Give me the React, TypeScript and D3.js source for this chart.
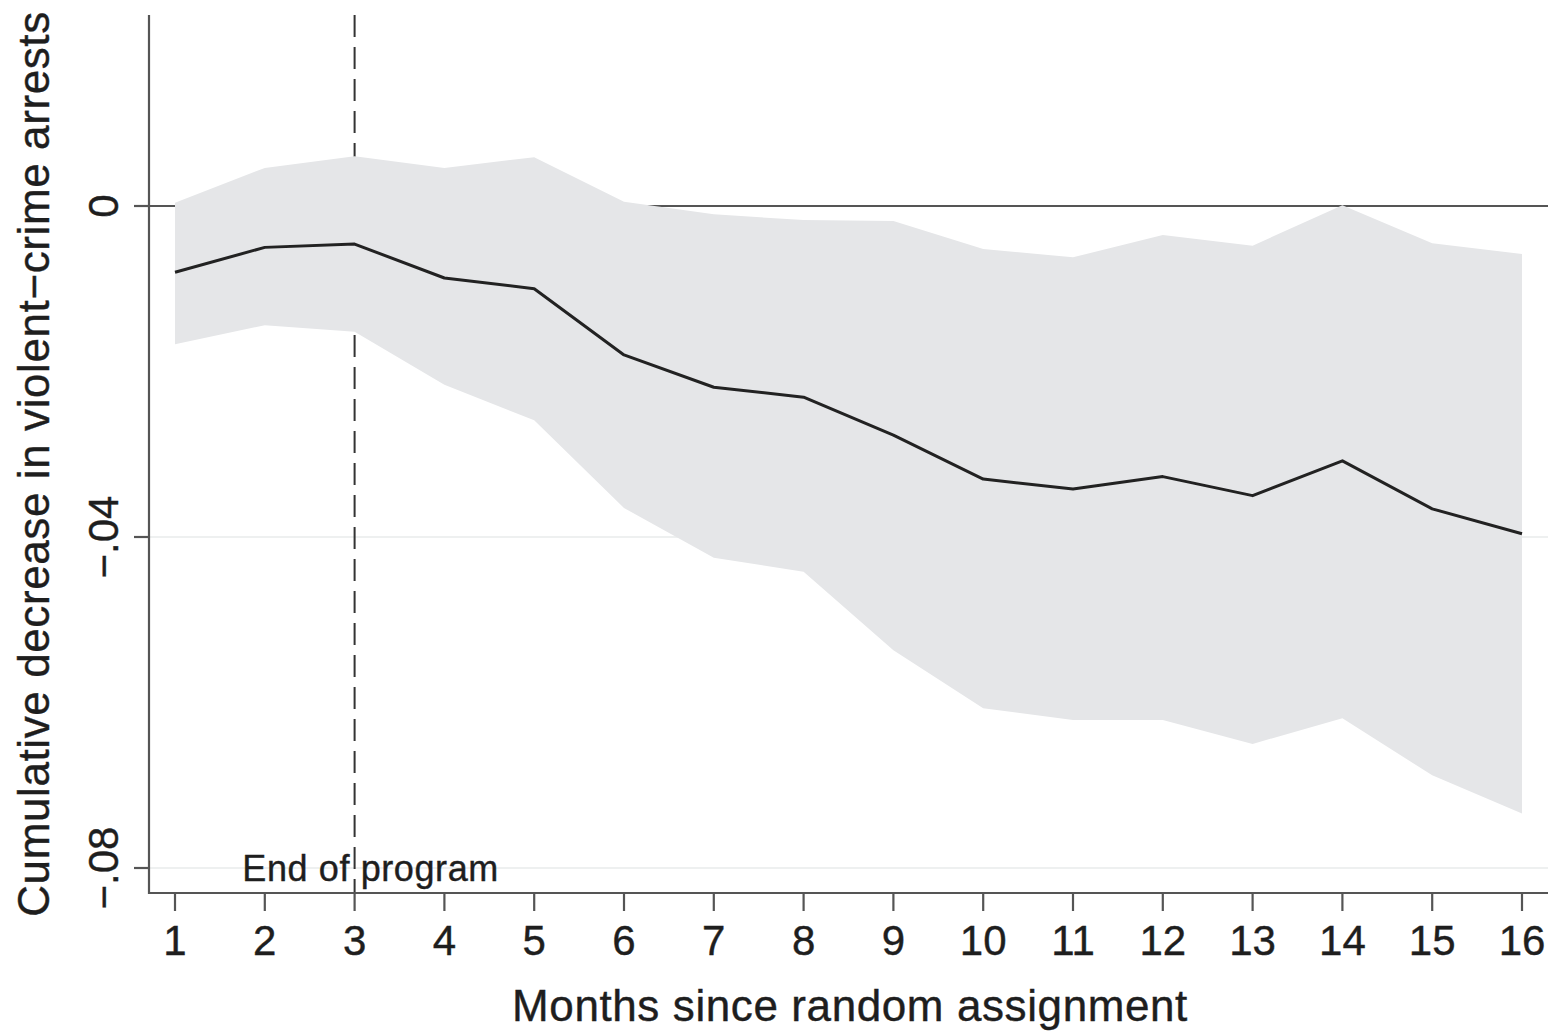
import React from "react";
import * as d3 from "d3";

// months since random assignment
const months = [1, 2, 3, 4, 5, 6, 7, 8, 9, 10, 11, 12, 13, 14, 15, 16];
// point estimate
const estimate = [
  -0.0080, -0.0050, -0.0046, -0.0087, -0.0100, -0.0180, -0.0219, -0.0231,
  -0.0277, -0.0330, -0.0342, -0.0327, -0.0350, -0.0308, -0.0366, -0.0396,
];
// confidence band
const upper = [
  0.0004, 0.0046, 0.0060, 0.0046, 0.0059, 0.0005, -0.0010, -0.0017,
  -0.0018, -0.0052, -0.0062, -0.0035, -0.0048, 0.0001, -0.0045, -0.0058,
];
const lower = [
  -0.0167, -0.0144, -0.0152, -0.0216, -0.0259, -0.0365, -0.0425, -0.0442,
  -0.0537, -0.0607, -0.0621, -0.0621, -0.0650, -0.0619, -0.0688, -0.0734,
];
const yTicks = [0, -0.04, -0.08];
const programEnd = 3;

const W = 1560;
const H = 1033;
const font = "'Liberation Sans', Arial, Helvetica, sans-serif";

export default function App() {
  const left = 149;
  const right = 1548;
  const top = 15;
  const bottom = 893;

  const x = d3.scaleLinear().domain([1, 16]).range([175, 1522]);
  const y = d3.scaleLinear().domain([0, -0.04]).range([206, 537]);

  const rows = months.map((m, i) => ({ m, est: estimate[i], lo: lower[i], hi: upper[i] }));

  const band = d3
    .area<(typeof rows)[number]>()
    .x((d) => x(d.m))
    .y0((d) => y(d.lo))
    .y1((d) => y(d.hi))(rows);

  const line = d3
    .line<(typeof rows)[number]>()
    .x((d) => x(d.m))
    .y((d) => y(d.est))(rows);

  const txt = { fill: "#1e1e1e", stroke: "#1e1e1e", strokeWidth: 0.4 };

  return (
    <svg
      width={W}
      height={H}
      style={{ position: "absolute", left: 0, top: 0, background: "#fff" }}
      fontFamily={font}
    >
      {/* light gridlines */}
      {yTicks
        .filter((t) => t !== 0)
        .map((t) => (
          <line key={t} x1={left} x2={right} y1={y(t)} y2={y(t)} stroke="#eef0f0" strokeWidth={2} />
        ))}
      {/* zero reference line */}
      <line x1={left} x2={right} y1={y(0)} y2={y(0)} stroke="#555" strokeWidth={2.2} />
      {/* end of program */}
      <line
        x1={x(programEnd)}
        x2={x(programEnd)}
        y1={top}
        y2={bottom}
        stroke="#333"
        strokeWidth={2}
        strokeDasharray="22,10"
      />
      <path d={band ?? ""} fill="#e5e6e8" />
      <path d={line ?? ""} fill="none" stroke="#222" strokeWidth={3} strokeLinejoin="round" />
      <text x={x(1.75)} y={881} fontSize={36} letterSpacing={0.6} {...txt}>
        End of program
      </text>

      {/* axes */}
      <line x1={left} x2={left} y1={top} y2={bottom + 1} stroke="#555" strokeWidth={2.2} />
      <line x1={left - 1} x2={right} y1={bottom} y2={bottom} stroke="#555" strokeWidth={2.2} />
      {yTicks.map((t) => (
        <g key={t}>
          <line x1={left - 15} x2={left} y1={y(t)} y2={y(t)} stroke="#555" strokeWidth={2.2} />
          <text
            transform={`translate(118,${y(t)}) rotate(-90)`}
            textAnchor="middle"
            fontSize={42}
            {...txt}
          >
            {t === 0 ? "0" : d3.format(".2f")(t).replace("0.", ".").replace("-", "\u2212")}
          </text>
        </g>
      ))}
      {months.map((m) => (
        <g key={m}>
          <line x1={x(m)} x2={x(m)} y1={bottom} y2={911} stroke="#555" strokeWidth={2.2} />
          <text x={x(m)} y={955} textAnchor="middle" fontSize={42} {...txt}>
            {m}
          </text>
        </g>
      ))}
      <text x={850} y={1021} textAnchor="middle" fontSize={44} letterSpacing={0.6} {...txt}>
        Months since random assignment
      </text>
      <text
        transform={`translate(49,464) rotate(-90)`}
        textAnchor="middle"
        fontSize={44}
        letterSpacing={0.6}
        {...txt}
      >
        Cumulative decrease in violent−crime arrests
      </text>
    </svg>
  );
}
